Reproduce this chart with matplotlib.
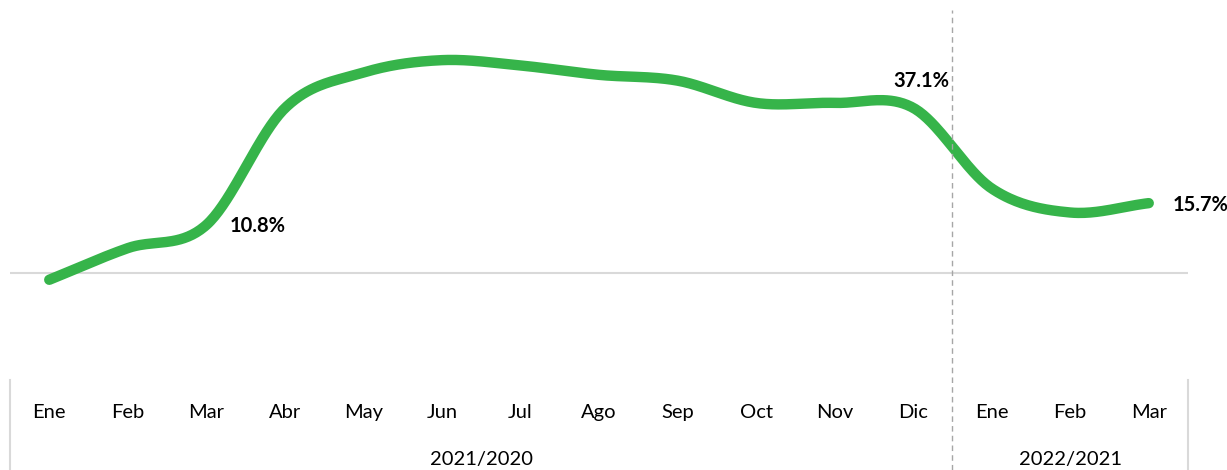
import numpy as np
import matplotlib
matplotlib.use("Agg")
import matplotlib.pyplot as plt

months = ["Ene", "Feb", "Mar", "Abr", "May", "Jun", "Jul", "Ago", "Sep", "Oct", "Nov", "Dic", "Ene", "Feb", "Mar"]
values = [-1.5, 5.6, 10.8, 37.0, 45.0, 47.8, 46.6, 44.5, 43.2, 38.2, 38.2, 37.1, 19.0, 13.6, 15.7]
periods = ["2021/2020", "2022/2021"]
period_sizes = [12, 3]
labeled = {2: "10.8%", 11: "37.1%", 14: "15.7%"}

GREEN = "#36B44A"
plt.rcParams["font.family"] = ["Lato", "DejaVu Sans"]

W, H = 1227, 470
fig = plt.figure(figsize=(W / 100, H / 100), dpi=100)
# axes: x 10..1188 px, y 0..380 px (from top)
ax = fig.add_axes([10 / W, (H - 380) / H, 1178 / W, 380 / H])
n = len(values)
ax.set_xlim(-0.5, n - 0.5)
ax.set_ylim(-24, 61.3)
ax.axis("off")

# Catmull-Rom smoothing (Excel-like smoothed line)
x = np.arange(n, dtype=float)
y = np.array(values, dtype=float)
px = np.concatenate([[2 * x[0] - x[1]], x, [2 * x[-1] - x[-2]]])
py = np.concatenate([[2 * y[0] - y[1]], y, [2 * y[-1] - y[-2]]])
xs, ys = [], []
t = np.linspace(0, 1, 40)
for i in range(1, n):
    p0, p1, p2, p3 = [np.array([px[j], py[j]]) for j in (i - 1, i, i + 1, i + 2)]
    c1 = p1 + (p2 - p0) / 6
    c2 = p2 - (p3 - p1) / 6
    b = ((1 - t) ** 3)[:, None] * p1 + (3 * (1 - t) ** 2 * t)[:, None] * c1 + \
        (3 * (1 - t) * t ** 2)[:, None] * c2 + (t ** 3)[:, None] * p2
    xs.extend(b[:, 0]); ys.extend(b[:, 1])

ax.axhline(0, color="#d9d9d9", lw=1.5, zorder=1)
ax.plot(xs, ys, color=GREEN, lw=7.5, solid_capstyle="round", zorder=3)

for i, lab in labeled.items():
    if i == 11:
        ax.annotate(lab, (i, values[i]), xytext=(6, 12), textcoords="offset points",
                    ha="center", va="bottom", fontsize=14.5, fontweight="bold")
    else:
        ax.annotate(lab, (i, values[i]), xytext=(17, -1), textcoords="offset points",
                    ha="left", va="center", fontsize=14.5, fontweight="bold")

# category labels
for i, m in enumerate(months):
    ax.text(i, -31.4, m, ha="center", va="center", fontsize=14.5, clip_on=False)

sep = period_sizes[0] - 0.5
# separators
for xv in (-0.5, n - 0.5):
    fig.add_artist(plt.Line2D([ax.transData.transform((xv, 0))[0] / W] * 2, [0, 90 / H],
                              color="#d9d9d9", lw=1.5))
xfig = ax.transData.transform((sep, 0))[0] / W
fig.add_artist(plt.Line2D([xfig, xfig], [0, (H - 10) / H], color="#a6a6a6", lw=1, ls=(0, (4, 3))))

# period labels
start = -0.5
for p, s in zip(periods, period_sizes):
    ax.text(start + s / 2, -41.8, p, ha="center", va="center", fontsize=14.5, clip_on=False)
    start += s

fig.savefig("out.png", dpi=100)
